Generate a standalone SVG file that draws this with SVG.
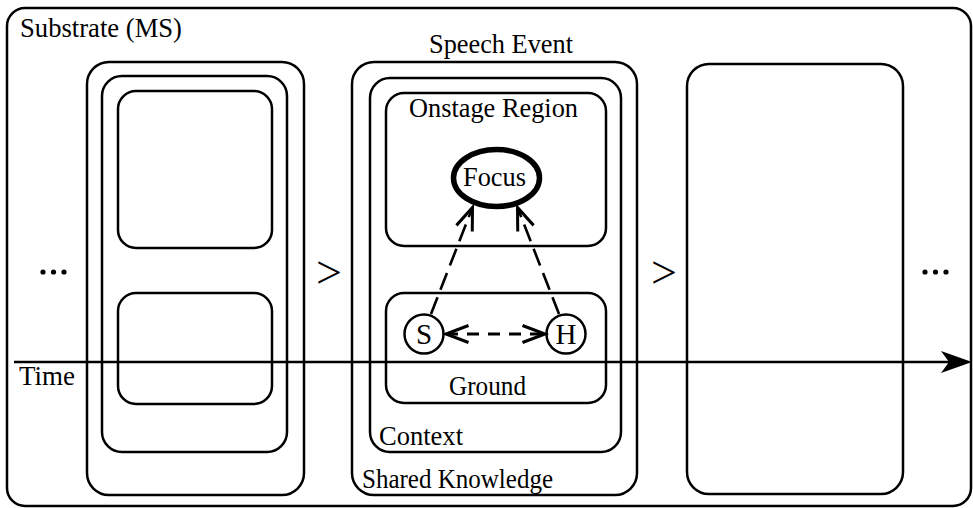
<svg xmlns="http://www.w3.org/2000/svg" width="973" height="508" viewBox="0 0 973 508">
  <style>
    .box { fill: none; stroke: #000; stroke-width: 2.5; }
    .lbl { font-family: "Liberation Serif", "Times New Roman", serif; font-size: 27px; fill: #000; }
    .big { font-size: 29px; }
    .gt { font-size: 46px; }
    .dash { fill: none; stroke: #000; stroke-width: 2.6; stroke-dasharray: 18 8; }
    .dash2 { fill: none; stroke: #000; stroke-width: 3; stroke-dasharray: 12 9; }
    .axis { fill: none; stroke: #000; stroke-width: 2.5; }
  </style>
  <defs>
    <marker id="open" markerUnits="userSpaceOnUse" markerWidth="40" markerHeight="40" refX="0" refY="0" orient="auto-start-reverse" overflow="visible">
      <path d="M -22.5 -8.5 L 0 0 L -22.5 8.5" fill="none" stroke="#000" stroke-width="3"/>
    </marker>
  </defs>

  <rect width="973" height="508" fill="#fff"/>

  <!-- substrate frame -->
  <g id="substrate">
    <rect class="box" x="7" y="8" width="964" height="498" rx="18"/>
    <text class="lbl" x="20" y="37" textLength="162" lengthAdjust="spacingAndGlyphs">Substrate (MS)</text>
  </g>

  <!-- earlier speech event -->
  <g id="event-prev">
    <rect class="box" x="87" y="62" width="217" height="433" rx="22"/>
    <rect class="box" x="102" y="76" width="185" height="376" rx="20"/>
    <rect class="box" x="118" y="91" width="154" height="157" rx="18"/>
    <rect class="box" x="118" y="293" width="154" height="111" rx="18"/>
  </g>

  <!-- current speech event -->
  <g id="speech-event">
    <text class="lbl" x="429" y="53" textLength="144" lengthAdjust="spacingAndGlyphs">Speech Event</text>
  </g>
  <g id="shared-knowledge">
    <rect class="box" x="352" y="62" width="285" height="433" rx="22"/>
    <text class="lbl" x="362" y="488" textLength="191" lengthAdjust="spacingAndGlyphs">Shared Knowledge</text>
  </g>
  <g id="context">
    <rect class="box" x="370" y="78" width="251" height="374" rx="20"/>
    <text class="lbl" x="379" y="445" textLength="84" lengthAdjust="spacingAndGlyphs">Context</text>
  </g>
  <g id="onstage">
    <rect class="box" x="386" y="93" width="220" height="153" rx="18"/>
    <text class="lbl" x="409" y="117" textLength="169" lengthAdjust="spacingAndGlyphs">Onstage Region</text>
  </g>
  <g id="focus">
    <ellipse cx="496.5" cy="178" rx="43" ry="28.5" fill="#fff" stroke="#000" stroke-width="5.5"/>
    <text class="lbl" x="463" y="186" textLength="63" lengthAdjust="spacingAndGlyphs">Focus</text>
  </g>
  <g id="ground">
    <rect class="box" x="386" y="293" width="220" height="110" rx="18"/>
    <text class="lbl" x="449" y="395" textLength="77" lengthAdjust="spacingAndGlyphs">Ground</text>
  </g>
  <g id="speaker">
    <circle cx="424" cy="334" r="19.5" fill="#fff" stroke="#000" stroke-width="2.5"/>
    <text class="lbl big" x="424" y="344" text-anchor="middle">S</text>
  </g>
  <g id="hearer">
    <circle cx="566" cy="334" r="19.5" fill="#fff" stroke="#000" stroke-width="2.5"/>
    <text class="lbl big" x="566" y="344" text-anchor="middle">H</text>
  </g>

  <!-- later speech event -->
  <g id="event-next">
    <rect class="box" x="687" y="64" width="216" height="430" rx="22"/>
  </g>

  <!-- sequence marks -->
  <g id="sequence">
    <text class="lbl gt" x="316" y="288">&gt;</text>
    <text class="lbl gt" x="651" y="288">&gt;</text>
    <g fill="#000">
      <circle cx="43" cy="272" r="2.6"/>
      <circle cx="53.5" cy="272" r="2.6"/>
      <circle cx="64" cy="272" r="2.6"/>
      <circle cx="925" cy="272" r="2.6"/>
      <circle cx="935.5" cy="272" r="2.6"/>
      <circle cx="946" cy="272" r="2.6"/>
    </g>
  </g>

  <!-- connectors -->
  <g id="connectors">
    <path class="dash" d="M 431 314 L 472.5 207.5" marker-end="url(#open)"/>
    <path class="dash" d="M 559 314 L 517.5 207.5" marker-end="url(#open)"/>
    <path class="dash2" d="M 446 334 L 545 334" marker-start="url(#open)" marker-end="url(#open)"/>
    <path class="axis" d="M 14 362 L 955 362"/>
    <path d="M 972 362 L 941 351 L 949 362 L 941 373 Z" fill="#000"/>
    <text class="lbl" x="19" y="385" textLength="56" lengthAdjust="spacingAndGlyphs">Time</text>
  </g>
</svg>
